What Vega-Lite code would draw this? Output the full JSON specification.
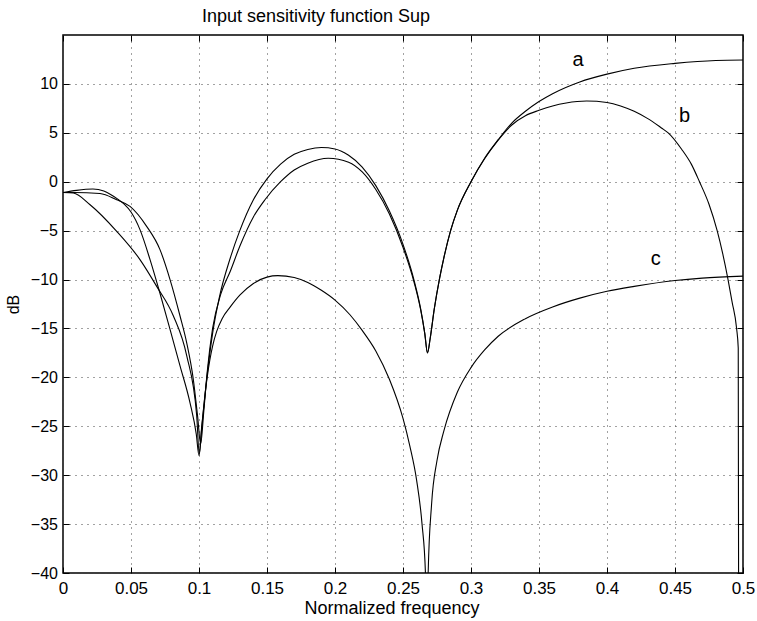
{
  "$schema": "https://vega.github.io/schema/vega-lite/v6.json",
  "width": 680,
  "height": 538,
  "autosize": "none",
  "padding": {"left": 63, "top": 35, "right": 14, "bottom": 48},
  "background": "white",
  "config": {"view": {"stroke": "black", "strokeWidth": 1.5}, "font": "Liberation Sans"},
  "title": {"text": "Input sensitivity function Sup", "anchor": "start", "frame": "group", "dx": 139, "offset": -5, "baseline": "alphabetic", "fontSize": 18, "fontWeight": "normal", "font": "Liberation Sans", "color": "black"},
  "datasets": {
    "curves": [
      {"curve": "a", "f": 0, "db": -1.1}, {"curve": "a", "f": 0.01, "db": -0.88}, {"curve": "a", "f": 0.022, "db": -0.75}, {"curve": "a", "f": 0.03, "db": -0.95},
      {"curve": "a", "f": 0.035, "db": -1.3}, {"curve": "a", "f": 0.04, "db": -1.75}, {"curve": "a", "f": 0.045, "db": -2.3}, {"curve": "a", "f": 0.05, "db": -3.1},
      {"curve": "a", "f": 0.0566, "db": -4.9}, {"curve": "a", "f": 0.064, "db": -7.96},
      {"curve": "a", "f": 0.0713, "db": -11.4}, {"curve": "a", "f": 0.0787, "db": -15.1}, {"curve": "a", "f": 0.086, "db": -18.8}, {"curve": "a", "f": 0.0934, "db": -22.6},
      {"curve": "a", "f": 0.098, "db": -25.8}, {"curve": "a", "f": 0.1, "db": -28}, {"curve": "a", "f": 0.102, "db": -25.2}, {"curve": "a", "f": 0.105, "db": -21},
      {"curve": "a", "f": 0.11, "db": -15.5}, {"curve": "a", "f": 0.115, "db": -11.8}, {"curve": "a", "f": 0.123, "db": -7.8}, {"curve": "a", "f": 0.13, "db": -5},
      {"curve": "a", "f": 0.14, "db": -1.84}, {"curve": "a", "f": 0.15, "db": 0.3}, {"curve": "a", "f": 0.16, "db": 1.8}, {"curve": "a", "f": 0.17, "db": 2.8},
      {"curve": "a", "f": 0.18, "db": 3.3}, {"curve": "a", "f": 0.19, "db": 3.5}, {"curve": "a", "f": 0.2, "db": 3.35}, {"curve": "a", "f": 0.21, "db": 2.7},
      {"curve": "a", "f": 0.22, "db": 1.5}, {"curve": "a", "f": 0.23, "db": -0.4}, {"curve": "a", "f": 0.24, "db": -3.0}, {"curve": "a", "f": 0.25, "db": -6.4},
      {"curve": "a", "f": 0.258, "db": -10}, {"curve": "a", "f": 0.263, "db": -13}, {"curve": "a", "f": 0.266, "db": -15.5}, {"curve": "a", "f": 0.268, "db": -17.5},
      {"curve": "a", "f": 0.27, "db": -16}, {"curve": "a", "f": 0.273, "db": -13}, {"curve": "a", "f": 0.277, "db": -9.8}, {"curve": "a", "f": 0.28, "db": -7.8},
      {"curve": "a", "f": 0.285, "db": -5}, {"curve": "a", "f": 0.29, "db": -2.9}, {"curve": "a", "f": 0.3, "db": 0}, {"curve": "a", "f": 0.31, "db": 2.4},
      {"curve": "a", "f": 0.32, "db": 4.3}, {"curve": "a", "f": 0.33, "db": 6.0}, {"curve": "a", "f": 0.34, "db": 7.2}, {"curve": "a", "f": 0.35, "db": 8.2},
      {"curve": "a", "f": 0.36, "db": 9.0}, {"curve": "a", "f": 0.38, "db": 10.2}, {"curve": "a", "f": 0.4, "db": 11.0}, {"curve": "a", "f": 0.42, "db": 11.6},
      {"curve": "a", "f": 0.45, "db": 12.1}, {"curve": "a", "f": 0.48, "db": 12.4}, {"curve": "a", "f": 0.5, "db": 12.45},

      {"curve": "b", "f": 0, "db": -1.1}, {"curve": "b", "f": 0.0076, "db": -1.1}, {"curve": "b", "f": 0.0272, "db": -1.2}, {"curve": "b", "f": 0.0395, "db": -1.84},
      {"curve": "b", "f": 0.0493, "db": -2.52}, {"curve": "b", "f": 0.0615, "db": -4.56}, {"curve": "b", "f": 0.0713, "db": -6.94}, {"curve": "b", "f": 0.0787, "db": -10.0},
      {"curve": "b", "f": 0.086, "db": -13.7}, {"curve": "b", "f": 0.091, "db": -16.5}, {"curve": "b", "f": 0.0958, "db": -20.2}, {"curve": "b", "f": 0.099, "db": -24},
      {"curve": "b", "f": 0.1012, "db": -26.8}, {"curve": "b", "f": 0.1035, "db": -23.5}, {"curve": "b", "f": 0.106, "db": -19.5}, {"curve": "b", "f": 0.11, "db": -15},
      {"curve": "b", "f": 0.116, "db": -11.5}, {"curve": "b", "f": 0.123, "db": -9.15}, {"curve": "b", "f": 0.13, "db": -6.6}, {"curve": "b", "f": 0.14, "db": -3.6},
      {"curve": "b", "f": 0.1485, "db": -1.84}, {"curve": "b", "f": 0.16, "db": 0}, {"curve": "b", "f": 0.17, "db": 1.2}, {"curve": "b", "f": 0.18, "db": 1.9},
      {"curve": "b", "f": 0.195, "db": 2.4}, {"curve": "b", "f": 0.21, "db": 2.0}, {"curve": "b", "f": 0.22, "db": 1.0}, {"curve": "b", "f": 0.23, "db": -0.8},
      {"curve": "b", "f": 0.24, "db": -3.3}, {"curve": "b", "f": 0.25, "db": -6.7}, {"curve": "b", "f": 0.258, "db": -10.2}, {"curve": "b", "f": 0.263, "db": -13.1},
      {"curve": "b", "f": 0.266, "db": -15.5}, {"curve": "b", "f": 0.268, "db": -17.5}, {"curve": "b", "f": 0.27, "db": -16}, {"curve": "b", "f": 0.273, "db": -13},
      {"curve": "b", "f": 0.277, "db": -9.8}, {"curve": "b", "f": 0.28, "db": -7.8}, {"curve": "b", "f": 0.285, "db": -5}, {"curve": "b", "f": 0.29, "db": -2.9},
      {"curve": "b", "f": 0.3, "db": 0}, {"curve": "b", "f": 0.31, "db": 2.35}, {"curve": "b", "f": 0.32, "db": 4.25}, {"curve": "b", "f": 0.33, "db": 5.8},
      {"curve": "b", "f": 0.34, "db": 6.75}, {"curve": "b", "f": 0.35, "db": 7.3}, {"curve": "b", "f": 0.36, "db": 7.75}, {"curve": "b", "f": 0.37, "db": 8.05},
      {"curve": "b", "f": 0.385, "db": 8.25}, {"curve": "b", "f": 0.4, "db": 8.1}, {"curve": "b", "f": 0.41, "db": 7.75}, {"curve": "b", "f": 0.42, "db": 7.2},
      {"curve": "b", "f": 0.43, "db": 6.45}, {"curve": "b", "f": 0.44, "db": 5.5}, {"curve": "b", "f": 0.445, "db": 5.0}, {"curve": "b", "f": 0.455, "db": 3.3},
      {"curve": "b", "f": 0.462, "db": 1.8}, {"curve": "b", "f": 0.468, "db": 0}, {"curve": "b", "f": 0.475, "db": -2.3}, {"curve": "b", "f": 0.481, "db": -5},
      {"curve": "b", "f": 0.485, "db": -7.3}, {"curve": "b", "f": 0.489, "db": -10}, {"curve": "b", "f": 0.492, "db": -12.3}, {"curve": "b", "f": 0.4953, "db": -15},
      {"curve": "b", "f": 0.4965, "db": -17}, {"curve": "b", "f": 0.4968, "db": -45},

      {"curve": "c", "f": 0, "db": -1.1}, {"curve": "c", "f": 0.0076, "db": -1.16}, {"curve": "c", "f": 0.0199, "db": -2.35}, {"curve": "c", "f": 0.0395, "db": -5.07},
      {"curve": "c", "f": 0.0566, "db": -7.96}, {"curve": "c", "f": 0.0689, "db": -10.7}, {"curve": "c", "f": 0.0811, "db": -13.7}, {"curve": "c", "f": 0.091, "db": -17.8},
      {"curve": "c", "f": 0.0983, "db": -23.9}, {"curve": "c", "f": 0.1002, "db": -27.8}, {"curve": "c", "f": 0.102, "db": -25}, {"curve": "c", "f": 0.104, "db": -22.3},
      {"curve": "c", "f": 0.106, "db": -20.0}, {"curve": "c", "f": 0.108, "db": -18.2}, {"curve": "c", "f": 0.11, "db": -16.8}, {"curve": "c", "f": 0.113, "db": -15.3},
      {"curve": "c", "f": 0.117, "db": -14.0}, {"curve": "c", "f": 0.123, "db": -12.8}, {"curve": "c", "f": 0.13, "db": -11.6}, {"curve": "c", "f": 0.14, "db": -10.4},
      {"curve": "c", "f": 0.15, "db": -9.75}, {"curve": "c", "f": 0.158, "db": -9.6},
      {"curve": "c", "f": 0.17, "db": -9.8}, {"curve": "c", "f": 0.18, "db": -10.3}, {"curve": "c", "f": 0.19, "db": -11.1}, {"curve": "c", "f": 0.2, "db": -12.1},
      {"curve": "c", "f": 0.211, "db": -13.6}, {"curve": "c", "f": 0.22, "db": -15.2}, {"curve": "c", "f": 0.23, "db": -17.3}, {"curve": "c", "f": 0.24, "db": -20.2},
      {"curve": "c", "f": 0.25, "db": -24.2}, {"curve": "c", "f": 0.255, "db": -27}, {"curve": "c", "f": 0.26, "db": -30.5}, {"curve": "c", "f": 0.264, "db": -35},
      {"curve": "c", "f": 0.2665, "db": -40}, {"curve": "c", "f": 0.2675, "db": -48}, {"curve": "c", "f": 0.2685, "db": -40}, {"curve": "c", "f": 0.271, "db": -33},
      {"curve": "c", "f": 0.275, "db": -28.5}, {"curve": "c", "f": 0.28, "db": -25.5}, {"curve": "c", "f": 0.29, "db": -21.5}, {"curve": "c", "f": 0.3, "db": -19},
      {"curve": "c", "f": 0.31, "db": -17.2}, {"curve": "c", "f": 0.32, "db": -15.8}, {"curve": "c", "f": 0.34, "db": -14}, {"curve": "c", "f": 0.36, "db": -12.8},
      {"curve": "c", "f": 0.38, "db": -11.9}, {"curve": "c", "f": 0.4, "db": -11.2}, {"curve": "c", "f": 0.42, "db": -10.7}, {"curve": "c", "f": 0.45, "db": -10.1},
      {"curve": "c", "f": 0.47, "db": -9.85}, {"curve": "c", "f": 0.5, "db": -9.65}
    ],
    "labels": [
      {"label": "a", "f": 0.3787, "db": 11.84},
      {"label": "b", "f": 0.457, "db": 6.15},
      {"label": "c", "f": 0.4359, "db": -8.47}
    ]
  },
  "resolve": {"axis": {"x": "independent", "y": "independent"}},
  "layer": [
    {
      "data": {"name": "curves"},
      "mark": {"type": "line", "clip": true, "interpolate": "monotone", "color": "black", "strokeWidth": 1.1},
      "encoding": {
        "x": {"field": "f", "type": "quantitative", "scale": {"domain": [0, 0.5], "nice": false, "zero": false},
          "axis": {"values": [0, 0.05, 0.1, 0.15, 0.2, 0.25, 0.3, 0.35, 0.4, 0.45, 0.5], "format": "~g", "labelFlush": false,
            "labelFontSize": 17, "labelColor": "black", "labelPadding": 13, "tickColor": "black", "tickSize": -6, "domain": false,
            "grid": true, "gridDash": [1, 5], "gridColor": "#444", "gridOpacity": 1,
            "title": "Normalized frequency", "titleFontSize": 18, "titleFontWeight": "normal", "titleColor": "black",
            "titleX": 328.5, "titleY": 40, "titleBaseline": "alphabetic"}},
        "y": {"field": "db", "type": "quantitative", "scale": {"domain": [-40, 15], "nice": false, "zero": false},
          "axis": {"values": [-40, -35, -30, -25, -20, -15, -10, -5, 0, 5, 10], "labelFlush": false,
            "labelFontSize": 16, "labelColor": "black", "labelPadding": 11.5, "tickColor": "black", "tickSize": -6, "domain": false,
            "grid": true, "gridDash": [1, 5], "gridColor": "#444", "gridOpacity": 1,
            "title": "dB", "titleFontSize": 16, "titleFontWeight": "normal", "titleColor": "black",
            "titleX": -44.5, "titleBaseline": "alphabetic"}},
        "detail": {"field": "curve"}
      }
    },
    {
      "data": {"name": "labels"},
      "mark": {"type": "text", "fontSize": 20, "baseline": "alphabetic", "align": "center", "color": "black", "font": "Liberation Sans"},
      "encoding": {
        "x": {"field": "f", "type": "quantitative",
          "axis": {"orient": "top", "values": [0, 0.05, 0.1, 0.15, 0.2, 0.25, 0.3, 0.35, 0.4, 0.45, 0.5], "labels": false, "title": null, "grid": false, "domain": false, "tickColor": "black", "tickSize": -6}},
        "y": {"field": "db", "type": "quantitative",
          "axis": {"orient": "right", "values": [-40, -35, -30, -25, -20, -15, -10, -5, 0, 5, 10], "labels": false, "title": null, "grid": false, "domain": false, "tickColor": "black", "tickSize": -6}},
        "text": {"field": "label"}
      }
    }
  ]
}
